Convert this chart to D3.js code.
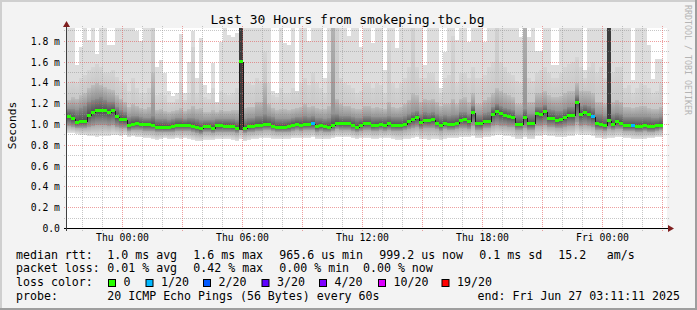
<!DOCTYPE html>
<html>
<head>
<meta charset="utf-8">
<script src="https://cdn.jsdelivr.net/npm/d3@7"></script>
<style>
  html, body { margin: 0; padding: 0; background: #f3f3f3; }
  svg { display: block; }
  text { font-family: "DejaVu Sans Mono", monospace; fill: #000; }
</style>
</head>
<body>
<div id="chart"></div>
<script>
// -----------------------------
// Datos (149 intervalos de 12 minutos)
// -----------------------------
const graphStart = "2025-06-25T21:11:11Z";
const graphEnd = "2025-06-27T03:11:11Z";
const firstBin = "2025-06-25T21:12:00Z";
const binMinutes = 12;

// mediana (ms)
const median = [
  1.075,1.055,1.02,1.03,1.03,1.09,1.115,1.13,1.13,1.13,1.12,1.13,1.075,1.05,1.045,0.987,1.003,1.013,1.0,1.0,1.0,0.994,0.975,0.975,0.972,
  0.974,0.98,0.994,0.994,0.994,0.994,0.984,0.974,0.958,0.978,0.978,0.965,0.987,0.987,0.984,0.984,0.978,0.965,1.606,0.965,0.978,0.984,0.99,0.994,1.003,
  1.0,0.984,0.974,0.974,0.974,0.984,0.994,1.003,0.994,1.0,1.0,1.006,0.978,0.987,0.978,0.974,0.994,1.013,1.006,1.006,1.006,0.994,0.974,0.994,1.01,
  1.01,0.987,0.994,1.0,0.994,1.006,0.994,0.99,0.99,1.003,1.026,1.048,1.064,1.016,1.042,1.035,1.048,1.013,0.994,1.013,1.0,1.0,1.013,1.042,1.045,
  1.026,1.112,1.01,1.006,1.032,1.032,1.1,1.128,1.103,1.087,1.077,1.067,1.003,1.003,1.067,1.006,1.006,1.103,1.093,1.122,1.061,1.061,1.035,1.045,1.064,
  1.09,1.085,1.21,1.096,1.115,1.096,1.074,1.006,0.997,0.987,1.042,1.0,1.026,1.013,0.987,0.987,0.987,0.98,0.98,0.987,0.98,0.98,0.987,0.994
];
// ping más rápido
const minRtt = [
  0.92,0.92,0.91,0.90,0.90,0.89,0.89,0.88,0.89,0.89,0.89,0.90,0.90,0.89,0.90,0.88,0.89,0.88,0.88,0.87,0.87,0.86,0.85,0.86,0.87,
  0.86,0.86,0.87,0.86,0.87,0.86,0.85,0.84,0.84,0.85,0.85,0.85,0.86,0.86,0.86,0.86,0.85,0.84,0.86,0.84,0.85,0.86,0.86,0.87,0.87,
  0.87,0.86,0.86,0.86,0.86,0.86,0.87,0.87,0.87,0.87,0.87,0.88,0.86,0.86,0.86,0.86,0.87,0.88,0.88,0.88,0.88,0.87,0.86,0.87,0.87,
  0.87,0.86,0.86,0.87,0.87,0.87,0.86,0.85,0.85,0.86,0.86,0.87,0.88,0.86,0.86,0.85,0.86,0.86,0.85,0.86,0.87,0.87,0.87,0.88,0.88,
  0.88,0.89,0.87,0.87,0.88,0.88,0.89,0.90,0.90,0.89,0.89,0.88,0.86,0.86,0.88,0.86,0.86,0.89,0.89,0.90,0.89,0.89,0.88,0.88,0.88,
  0.89,0.89,0.91,0.90,0.90,0.90,0.89,0.87,0.87,0.86,0.87,0.87,0.88,0.88,0.87,0.87,0.86,0.86,0.86,0.86,0.87,0.87,0.88,0.88
];
// borde inferior del núcleo oscuro
const lowRtt = [
  0.99,0.98,0.97,0.97,0.97,0.98,0.99,1.0,1.0,1.0,0.99,1.0,0.98,0.97,0.97,0.94,0.95,0.95,0.95,0.94,0.94,0.94,0.93,0.93,0.93,
  0.93,0.93,0.94,0.94,0.94,0.94,0.93,0.92,0.91,0.93,0.93,0.92,0.93,0.93,0.93,0.93,0.93,0.92,0.95,0.92,0.93,0.93,0.94,0.94,0.95,
  0.95,0.94,0.93,0.93,0.93,0.93,0.94,0.95,0.94,0.95,0.95,0.95,0.93,0.94,0.93,0.93,0.94,0.96,0.95,0.95,0.95,0.94,0.93,0.94,0.95,
  0.95,0.94,0.94,0.95,0.94,0.95,0.94,0.94,0.94,0.95,0.96,0.97,0.98,0.96,0.97,0.97,0.97,0.96,0.94,0.96,0.95,0.95,0.96,0.97,0.97,
  0.96,0.99,0.95,0.95,0.97,0.97,0.99,1.0,0.99,0.99,0.98,0.98,0.95,0.95,0.97,0.95,0.95,0.99,0.99,1.0,0.98,0.98,0.97,0.97,0.98,
  0.99,0.99,1.02,0.99,1.0,0.99,0.98,0.95,0.95,0.94,0.96,0.95,0.96,0.96,0.94,0.94,0.94,0.93,0.93,0.94,0.93,0.93,0.94,0.95
];
// borde superior del núcleo oscuro
const darkTop = [
  1.15,1.15,1.14,1.16,1.18,1.22,1.24,1.25,1.26,1.24,1.22,1.22,1.17,1.14,1.12,1.07,1.08,1.08,1.07,1.06,1.06,1.08,1.05,1.05,1.05,
  1.04,1.05,1.06,1.06,1.05,1.06,1.06,1.05,1.04,1.04,1.04,1.04,1.05,1.05,1.05,1.05,1.05,1.04,2.2,1.05,1.06,1.06,1.08,1.08,1.10,
  1.08,1.07,1.05,1.05,1.05,1.05,1.06,1.07,1.07,1.08,1.07,1.08,1.06,1.06,1.05,1.06,1.10,1.10,1.08,1.08,1.08,1.07,1.06,1.06,1.08,
  1.08,1.07,1.07,1.07,1.07,1.08,1.07,1.07,1.07,1.08,1.10,1.12,1.13,1.10,1.12,1.11,1.12,1.10,1.08,1.09,1.08,1.09,1.09,1.12,1.12,
  1.10,1.18,1.09,1.09,1.11,1.12,1.17,1.20,1.18,1.16,1.15,1.14,1.09,1.09,1.15,1.10,1.10,1.17,1.17,1.19,1.15,1.14,1.13,1.13,1.15,
  1.17,1.17,1.28,1.18,1.19,1.18,1.16,1.10,1.10,1.08,2.2,1.10,1.11,1.10,1.07,1.07,1.07,1.07,1.07,1.07,1.07,1.06,1.06,1.07
];
// borde superior del humo medio
const midTop = [
  1.24,1.26,1.25,1.28,1.30,1.35,1.38,1.40,1.38,1.36,1.34,1.33,1.28,1.25,1.22,1.17,1.20,1.18,1.16,1.15,1.17,1.50,1.14,1.15,1.13,
  1.12,1.13,1.14,1.16,1.13,1.15,1.18,1.15,1.16,1.12,1.12,1.14,1.12,1.14,1.13,1.13,1.14,1.14,2.2,1.16,1.17,1.17,1.22,1.22,1.40,
  1.20,1.16,1.14,1.15,1.15,1.14,1.15,1.16,1.17,1.20,1.17,1.18,1.16,1.15,1.15,1.18,2.2,1.25,1.20,1.18,1.18,1.16,1.15,1.15,1.18,
  1.18,1.16,1.17,1.16,1.15,1.22,1.17,1.16,1.17,1.20,1.24,1.30,1.28,1.22,1.25,1.24,1.25,1.22,1.18,1.20,1.20,1.25,1.20,1.25,1.26,
  1.22,1.30,1.20,1.20,1.24,1.26,1.30,1.35,1.32,1.30,1.28,1.26,1.20,1.20,2.2,1.22,1.22,1.30,1.30,1.32,1.28,1.26,1.26,1.27,1.30,
  1.32,1.32,1.40,1.32,1.32,1.32,1.30,1.22,1.22,1.20,2.2,1.22,1.24,1.22,1.17,1.17,1.16,1.17,1.18,1.18,1.16,1.15,1.15,1.17
];
// borde superior del humo claro-medio
const lightTop = [
  1.40,1.42,1.40,1.45,1.48,1.52,1.55,1.58,1.55,1.50,1.50,1.52,1.46,1.42,1.40,1.32,1.45,1.35,1.30,1.30,1.35,2.2,1.28,1.30,1.28,
  1.22,1.22,1.25,1.40,1.24,1.30,1.75,1.30,1.50,1.26,1.25,1.35,1.22,1.32,1.30,1.28,1.30,1.35,2.2,1.40,1.40,1.38,1.45,1.42,1.70,
  1.40,1.28,1.26,1.35,1.30,1.30,1.35,1.32,1.40,1.45,1.38,1.50,1.40,1.35,1.30,1.50,2.2,2.2,1.45,1.40,1.38,1.35,1.30,1.32,1.40,
  1.40,1.35,1.40,1.38,1.30,1.80,1.40,1.35,1.40,1.45,1.55,2.2,1.55,1.45,1.45,1.50,1.50,1.42,1.30,1.45,1.48,1.85,1.40,1.50,1.50,
  1.45,1.55,1.45,1.45,1.48,1.55,1.60,2.2,1.60,1.55,1.50,1.48,1.42,1.40,2.2,1.45,1.42,1.50,1.52,1.55,1.50,1.45,1.45,1.50,1.55,
  1.58,1.60,1.65,1.55,1.45,1.55,1.60,1.50,1.55,1.45,2.2,1.50,1.55,1.55,1.35,1.38,1.30,1.35,1.40,1.38,1.35,1.30,1.32,1.40
];
// ping más lento (2.2 = fuera del gráfico)
const maxRtt = [
  2.2,2.2,1.57,1.75,2.2,1.81,2.2,1.68,2.2,2.2,1.76,1.76,2.2,2.2,2.2,2.2,2.2,1.9,1.8,2.2,2.2,2.2,1.55,1.62,1.5,
  1.32,1.27,1.3,1.87,1.3,1.6,1.9,1.45,1.83,1.38,1.3,1.59,1.22,1.79,2.2,1.86,1.84,1.88,2.2,2.2,2.2,2.2,2.2,2.2,2.2,
  2.2,1.32,1.3,2.2,1.78,1.76,2.2,1.32,2.2,2.2,1.8,2.2,2.2,2.2,1.45,2.2,2.2,2.2,2.2,2.2,1.85,2.2,2.2,1.75,2.2,
  2.2,1.78,2.2,2.2,1.52,2.2,2.2,1.74,2.2,2.2,2.2,2.2,2.2,2.2,1.57,2.2,2.2,2.2,1.35,1.7,2.2,2.2,1.81,2.2,2.2,
  1.79,2.2,2.2,2.2,1.79,2.2,2.2,2.2,2.2,2.2,2.2,2.2,2.2,1.84,2.2,1.84,2.2,1.71,1.71,2.2,2.2,1.57,1.57,2.2,2.2,
  2.2,2.2,2.2,2.2,1.52,2.2,2.2,2.2,2.2,2.2,2.2,2.2,2.2,2.2,2.2,2.2,1.43,2.2,2.2,2.2,1.76,1.44,1.63,1.63
];
// intervalos con pérdida: [índice, pings perdidos]
const lossEvents = [[61, 1], [131, 1], [141, 1]];

// ejes
const yTickValues = [0, 0.2, 0.4, 0.6, 0.8, 1.0, 1.2, 1.4, 1.6, 1.8];
const yTickLabels = ["0.0", "0.2 m", "0.4 m", "0.6 m", "0.8 m", "1.0 m", "1.2 m", "1.4 m", "1.6 m", "1.8 m"];
const xTickTimes = ["2025-06-26T00:00:00Z", "2025-06-26T06:00:00Z", "2025-06-26T12:00:00Z", "2025-06-26T18:00:00Z", "2025-06-27T00:00:00Z"];
const xTickLabels = ["Thu 00:00", "Thu 06:00", "Thu 12:00", "Thu 18:00", "Fri 00:00"];

// leyenda
const lossLabels = ["0", "1/20", "2/20", "3/20", "4/20", "10/20", "19/20"];
const lossColors = ["#26ff00", "#00b8ff", "#0059ff", "#5e00ff", "#7e00ff", "#dd00ff", "#ff0000"];
const lossSteps = [0, 1, 2, 3, 4, 10, 19];
const rttStats = ["1.0 ms avg", "1.6 ms max", "965.6 us min", "999.2 us now", "0.1 ms sd", "15.2", "am/s"];
const lossStats = ["0.01 % avg", "0.42 % max", "0.00 % min", "0.00 % now"];

// -----------------------------
// Dibujo
// -----------------------------
const W = 697, H = 310;
const plot = { left: 67, top: 28, right: 667, bottom: 228 };

const svg = d3.select("#chart").append("svg")
  .attr("width", W)
  .attr("height", H);

// fondo y bordes sombreados
svg.append("rect").attr("width", W).attr("height", H).attr("fill", "#f3f3f3");
svg.append("rect").attr("width", W).attr("height", 2).attr("fill", "#cfcfcf");
svg.append("rect").attr("width", 2).attr("height", H).attr("fill", "#cfcfcf");
svg.append("rect").attr("y", H - 2).attr("width", W).attr("height", 2).attr("fill", "#9e9e9e");
svg.append("rect").attr("x", W - 2).attr("width", 2).attr("height", H).attr("fill", "#9e9e9e");

// lienzo
svg.append("rect")
  .attr("x", plot.left).attr("y", plot.top)
  .attr("width", plot.right - plot.left).attr("height", plot.bottom - plot.top)
  .attr("fill", "#ffffff");

// escalas
const x = d3.scaleUtc()
  .domain([new Date(graphStart), new Date(graphEnd)])
  .range([66.5, 666.5]);

const y = d3.scaleLinear()
  .domain([0, 200 / 104])
  .range([228.5, 28.5]);

// gradientes del humo (de abajo hacia arriba)
const defs = svg.append("defs");
function gradient(id, bottom, top) {
  const g = defs.append("linearGradient").attr("id", id)
    .attr("x1", 0).attr("y1", 1).attr("x2", 0).attr("y2", 0);
  g.append("stop").attr("offset", "0%").attr("stop-color", bottom);
  g.append("stop").attr("offset", "100%").attr("stop-color", top);
}
gradient("gLow", "#e2e2e2", "#a8a8a8");
gradient("gUnder", "#9c9c9c", "#4e4e4e");
gradient("gOver", "#4e4e4e", "#8c8c8c");
gradient("gMid", "#939393", "#bdbdbd");
gradient("gLight", "#c8c8c8", "#d5d5d5");

defs.append("clipPath").attr("id", "clipPlot")
  .append("rect")
  .attr("x", plot.left).attr("y", plot.top)
  .attr("width", plot.right - plot.left).attr("height", plot.bottom - plot.top);

const lossByBin = new Map(lossEvents);
const t0 = new Date(firstBin).getTime();
const bins = median.map((m, i) => ({
  i,
  start: new Date(t0 + i * binMinutes * 60000),
  end: new Date(t0 + (i + 1) * binMinutes * 60000),
  med: m,
  min: minRtt[i],
  low: lowRtt[i],
  dark: darkTop[i],
  mid: midTop[i],
  light: lightTop[i],
  max: maxRtt[i],
  loss: lossByBin.get(i) || 0
}));

const bands = [
  { from: "min", to: "low", fill: "url(#gLow)" },
  { from: "low", to: "med", fill: "url(#gUnder)", core: true },
  { from: "med", to: "dark", fill: "url(#gOver)", core: true },
  { from: "dark", to: "mid", fill: "url(#gMid)" },
  { from: "mid", to: "light", fill: "url(#gLight)" },
  { from: "light", to: "max", fill: "#dddddd" }
];

const smoke = svg.append("g").attr("clip-path", "url(#clipPlot)");
bands.forEach((b) => {
  smoke.append("g")
    .selectAll("rect")
    .data(bins.filter((d) => d[b.to] > d[b.from]))
    .join("rect")
    .attr("x", (d) => Math.round(x(d.start)))
    .attr("width", (d) => Math.round(x(d.end)) - Math.round(x(d.start)))
    .attr("y", (d) => y(d[b.to]))
    .attr("height", (d) => y(d[b.from]) - y(d[b.to]))
    // un núcleo muy alto (pings dispersos) se ve uniforme y oscuro
    .attr("fill", (d) => (b.core && y(d[b.from]) - y(d[b.to]) > 30) ? "#3c3c3c" : b.fill)
    .attr("shape-rendering", "crispEdges");
});

// rejilla
const grid = svg.append("g").attr("shape-rendering", "crispEdges");
const minorY = d3.range(1, 20).map((k) => k / 10);
const hours = d3.utcHour.range(new Date("2025-06-25T22:00:00Z"), new Date("2025-06-27T03:30:00Z"));
const minorColor = "rgba(143,143,143,0.5)";
const majorColor = "rgba(222,80,80,0.55)";

function hLines(values, color) {
  grid.append("g")
    .selectAll("line")
    .data(values)
    .join("line")
    .attr("x1", 64).attr("x2", 669)
    .attr("y1", (v) => Math.floor(y(v)) + 0.5)
    .attr("y2", (v) => Math.floor(y(v)) + 0.5)
    .attr("stroke", color)
    .attr("stroke-dasharray", "1,1");
}
function vLines(values, color) {
  grid.append("g")
    .selectAll("line")
    .data(values)
    .join("line")
    .attr("x1", (h) => Math.floor(x(h)) + 0.5)
    .attr("x2", (h) => Math.floor(x(h)) + 0.5)
    .attr("y1", 26).attr("y2", 231)
    .attr("stroke", color)
    .attr("stroke-dasharray", "1,1");
}
hLines(minorY.filter((v, k) => k % 2 === 0), minorColor);
vLines(hours.filter((h) => h.getUTCHours() % 3 !== 0), minorColor);
hLines(minorY.filter((v, k) => k % 2 === 1), majorColor);
vLines(hours.filter((h) => h.getUTCHours() % 3 === 0), majorColor);

// mediana: saltos verticales finos y segmentos de color por pérdida
const medY = (v) => Math.floor(y(v));
const med = svg.append("g").attr("shape-rendering", "crispEdges");
med.append("g")
  .selectAll("line")
  .data(bins.slice(1))
  .join("line")
  .attr("x1", (d) => Math.round(x(d.start)) + 0.5)
  .attr("x2", (d) => Math.round(x(d.start)) + 0.5)
  .attr("y1", (d) => medY(bins[d.i - 1].med) + 0.5)
  .attr("y2", (d) => medY(d.med) + 0.5)
  .attr("stroke", "#1a1a1a");

const lossColor = (n) => {
  let c = lossColors[0];
  lossSteps.forEach((s, k) => { if (n >= s) c = lossColors[k]; });
  return c;
};
med.append("g")
  .selectAll("rect")
  .data(bins)
  .join("rect")
  .attr("x", (d) => Math.round(x(d.start)))
  .attr("width", (d) => Math.round(x(d.end)) - Math.round(x(d.start)))
  .attr("y", (d) => medY(d.med) - 1)
  .attr("height", 3)
  .attr("fill", (d) => lossColor(d.loss));

// ejes
svg.append("line")
  .attr("x1", 64).attr("x2", 671)
  .attr("y1", 228.5).attr("y2", 228.5)
  .attr("stroke", "#000").attr("shape-rendering", "crispEdges");
svg.append("line")
  .attr("x1", 66.5).attr("x2", 66.5)
  .attr("y1", 231).attr("y2", 24)
  .attr("stroke", "#404040").attr("shape-rendering", "crispEdges");
svg.append("path").attr("d", "M668,225 L674,228.5 L668,232 Z").attr("fill", "#7f1f1f");
svg.append("path").attr("d", "M63,27 L66.5,21 L70,27 Z").attr("fill", "#7f1f1f");

// etiquetas del eje Y
svg.append("g")
  .selectAll("text")
  .data(yTickValues)
  .join("text")
  .attr("x", 60)
  .attr("y", (v) => Math.floor(y(v)) + 4)
  .attr("text-anchor", "end")
  .style("font-size", "9.75px")
  .text((v, k) => yTickLabels[k]);

// etiquetas del eje X
svg.append("g")
  .selectAll("text")
  .data(xTickTimes)
  .join("text")
  .attr("x", (t) => Math.floor(x(new Date(t))) + 0.5)
  .attr("y", 241)
  .attr("text-anchor", "middle")
  .style("font-size", "9.75px")
  .text((t, k) => xTickLabels[k]);

// título y rótulos
svg.append("text")
  .attr("x", 347.5).attr("y", 24)
  .attr("text-anchor", "middle")
  .style("font-size", "13px")
  .text("Last 30 Hours from smokeping.tbc.bg");

svg.append("text")
  .attr("transform", "translate(15.5,125.5) rotate(-90)")
  .attr("text-anchor", "middle")
  .style("font-size", "11.3px")
  .text("Seconds");

svg.append("text")
  .attr("transform", "translate(685,5) rotate(90)")
  .style("font-size", "8.3px")
  .style("fill", "#b4b4b4")
  .text("RRDTOOL / TOBI OETIKER");

// leyenda
const rowY = [258.5, 272.3, 286.1, 299.9];
const leg = svg.append("g").style("font-size", "11.6px");

leg.append("text").attr("x", 16).attr("y", rowY[0]).text("median rtt:");
const rttX = [107.3, 193.3, 279.3, 379.3, 479.3, 558.3, 606.7];
rttStats.forEach((s, k) => leg.append("text").attr("x", rttX[k]).attr("y", rowY[0]).text(s));

leg.append("text").attr("x", 16).attr("y", rowY[1]).text("packet loss:");
const lossX = [107.3, 193.3, 279.3, 363];
lossStats.forEach((s, k) => leg.append("text").attr("x", lossX[k]).attr("y", rowY[1]).text(s));

leg.append("text").attr("x", 16).attr("y", rowY[2]).text("loss color:");
const boxX = [108.5, 146, 203.5, 262, 319.5, 378.5, 442];
lossLabels.forEach((lab, k) => {
  leg.append("rect")
    .attr("x", boxX[k]).attr("y", 279.5)
    .attr("width", 7).attr("height", 7)
    .attr("fill", lossColors[k])
    .attr("stroke", "#000");
  leg.append("text").attr("x", boxX[k] + 15).attr("y", rowY[2]).text(lab);
});

leg.append("text").attr("x", 16).attr("y", rowY[3]).text("probe:");
leg.append("text").attr("x", 107.3).attr("y", rowY[3]).text("20 ICMP Echo Pings (56 Bytes) every 60s");
leg.append("text").attr("x", 680).attr("y", rowY[3]).attr("text-anchor", "end").text("end: Fri Jun 27 03:11:11 2025");
</script>
</body>
</html>
